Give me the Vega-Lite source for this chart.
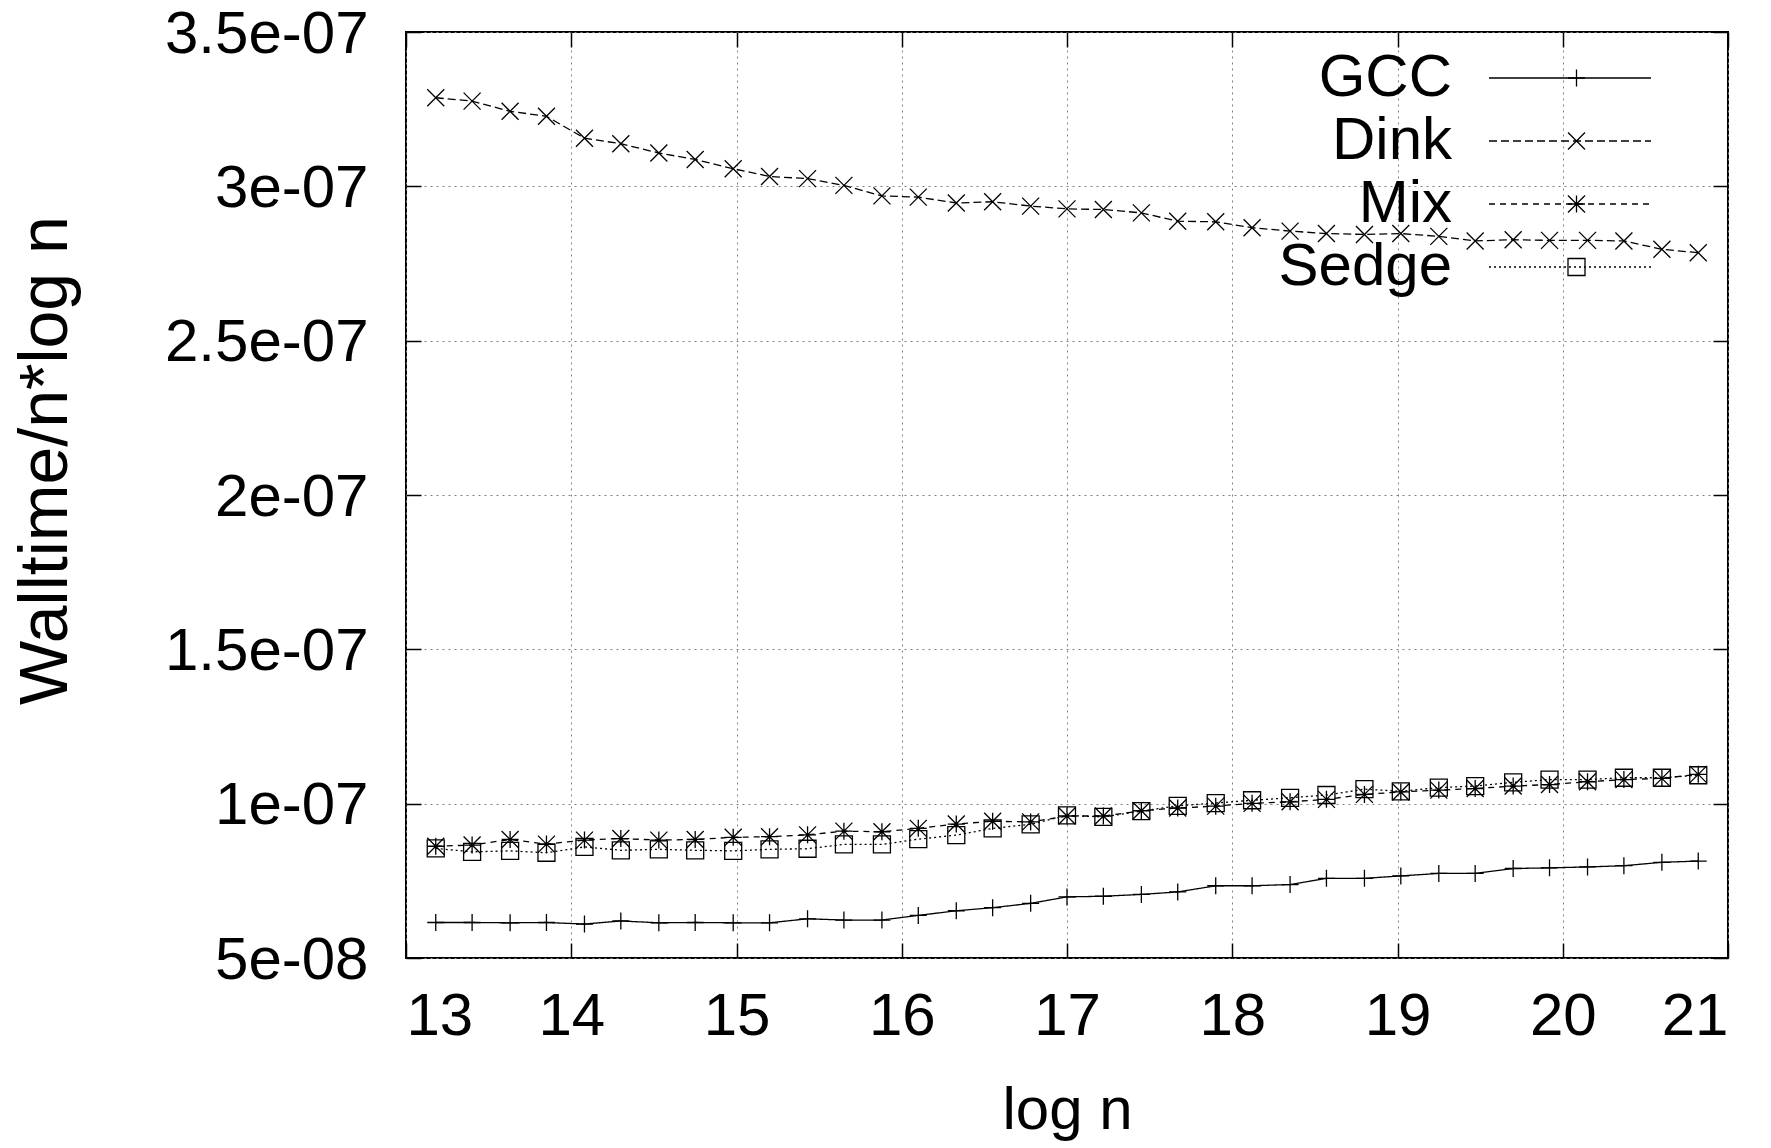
{
  "$schema": "https://vega.github.io/schema/vega-lite/v6.json",
  "width": 1322,
  "height": 926,
  "autosize": {"type": "none"},
  "padding": {"left": 406, "top": 32, "right": 43, "bottom": 190},
  "background": "white",
  "config": {
    "font": "Liberation Sans",
    "view": {"stroke": "black", "strokeWidth": 2},
    "axis": {"labelColor": "black", "titleColor": "black", "titleFontWeight": "normal", "tickColor": "black", "labelLimit": 500}
  },
  "data": {
    "values": [
      {"x": 13.18, "v": 6.15e-8, "s": "GCC"},
      {"x": 13.40, "v": 6.15e-8, "s": "GCC"},
      {"x": 13.63, "v": 6.14e-8, "s": "GCC"},
      {"x": 13.85, "v": 6.15e-8, "s": "GCC"},
      {"x": 14.08, "v": 6.10e-8, "s": "GCC"},
      {"x": 14.30, "v": 6.20e-8, "s": "GCC"},
      {"x": 14.53, "v": 6.14e-8, "s": "GCC"},
      {"x": 14.75, "v": 6.15e-8, "s": "GCC"},
      {"x": 14.98, "v": 6.14e-8, "s": "GCC"},
      {"x": 15.20, "v": 6.14e-8, "s": "GCC"},
      {"x": 15.43, "v": 6.27e-8, "s": "GCC"},
      {"x": 15.65, "v": 6.23e-8, "s": "GCC"},
      {"x": 15.88, "v": 6.23e-8, "s": "GCC"},
      {"x": 16.10, "v": 6.38e-8, "s": "GCC"},
      {"x": 16.33, "v": 6.53e-8, "s": "GCC"},
      {"x": 16.55, "v": 6.63e-8, "s": "GCC"},
      {"x": 16.78, "v": 6.77e-8, "s": "GCC"},
      {"x": 17.00, "v": 6.98e-8, "s": "GCC"},
      {"x": 17.22, "v": 7.00e-8, "s": "GCC"},
      {"x": 17.45, "v": 7.06e-8, "s": "GCC"},
      {"x": 17.67, "v": 7.14e-8, "s": "GCC"},
      {"x": 17.90, "v": 7.34e-8, "s": "GCC"},
      {"x": 18.12, "v": 7.34e-8, "s": "GCC"},
      {"x": 18.35, "v": 7.38e-8, "s": "GCC"},
      {"x": 18.57, "v": 7.58e-8, "s": "GCC"},
      {"x": 18.80, "v": 7.58e-8, "s": "GCC"},
      {"x": 19.02, "v": 7.66e-8, "s": "GCC"},
      {"x": 19.25, "v": 7.74e-8, "s": "GCC"},
      {"x": 19.47, "v": 7.74e-8, "s": "GCC"},
      {"x": 19.70, "v": 7.90e-8, "s": "GCC"},
      {"x": 19.92, "v": 7.92e-8, "s": "GCC"},
      {"x": 20.15, "v": 7.95e-8, "s": "GCC"},
      {"x": 20.37, "v": 7.99e-8, "s": "GCC"},
      {"x": 20.60, "v": 8.10e-8, "s": "GCC"},
      {"x": 20.82, "v": 8.14e-8, "s": "GCC"},
      {"x": 13.18, "v": 32.87e-8, "s": "Dink"},
      {"x": 13.40, "v": 32.76e-8, "s": "Dink"},
      {"x": 13.63, "v": 32.43e-8, "s": "Dink"},
      {"x": 13.85, "v": 32.27e-8, "s": "Dink"},
      {"x": 14.08, "v": 31.56e-8, "s": "Dink"},
      {"x": 14.30, "v": 31.38e-8, "s": "Dink"},
      {"x": 14.53, "v": 31.08e-8, "s": "Dink"},
      {"x": 14.75, "v": 30.87e-8, "s": "Dink"},
      {"x": 14.98, "v": 30.57e-8, "s": "Dink"},
      {"x": 15.20, "v": 30.32e-8, "s": "Dink"},
      {"x": 15.43, "v": 30.25e-8, "s": "Dink"},
      {"x": 15.65, "v": 30.03e-8, "s": "Dink"},
      {"x": 15.88, "v": 29.69e-8, "s": "Dink"},
      {"x": 16.10, "v": 29.65e-8, "s": "Dink"},
      {"x": 16.33, "v": 29.46e-8, "s": "Dink"},
      {"x": 16.55, "v": 29.50e-8, "s": "Dink"},
      {"x": 16.78, "v": 29.36e-8, "s": "Dink"},
      {"x": 17.00, "v": 29.27e-8, "s": "Dink"},
      {"x": 17.22, "v": 29.25e-8, "s": "Dink"},
      {"x": 17.45, "v": 29.14e-8, "s": "Dink"},
      {"x": 17.67, "v": 28.87e-8, "s": "Dink"},
      {"x": 17.90, "v": 28.85e-8, "s": "Dink"},
      {"x": 18.12, "v": 28.66e-8, "s": "Dink"},
      {"x": 18.35, "v": 28.55e-8, "s": "Dink"},
      {"x": 18.57, "v": 28.47e-8, "s": "Dink"},
      {"x": 18.80, "v": 28.44e-8, "s": "Dink"},
      {"x": 19.02, "v": 28.47e-8, "s": "Dink"},
      {"x": 19.25, "v": 28.38e-8, "s": "Dink"},
      {"x": 19.47, "v": 28.23e-8, "s": "Dink"},
      {"x": 19.70, "v": 28.27e-8, "s": "Dink"},
      {"x": 19.92, "v": 28.25e-8, "s": "Dink"},
      {"x": 20.15, "v": 28.25e-8, "s": "Dink"},
      {"x": 20.37, "v": 28.23e-8, "s": "Dink"},
      {"x": 20.60, "v": 27.96e-8, "s": "Dink"},
      {"x": 20.82, "v": 27.85e-8, "s": "Dink"},
      {"x": 13.18, "v": 8.62e-8, "s": "Mix"},
      {"x": 13.40, "v": 8.66e-8, "s": "Mix"},
      {"x": 13.63, "v": 8.84e-8, "s": "Mix"},
      {"x": 13.85, "v": 8.69e-8, "s": "Mix"},
      {"x": 14.08, "v": 8.82e-8, "s": "Mix"},
      {"x": 14.30, "v": 8.87e-8, "s": "Mix"},
      {"x": 14.53, "v": 8.82e-8, "s": "Mix"},
      {"x": 14.75, "v": 8.84e-8, "s": "Mix"},
      {"x": 14.98, "v": 8.91e-8, "s": "Mix"},
      {"x": 15.20, "v": 8.93e-8, "s": "Mix"},
      {"x": 15.43, "v": 8.99e-8, "s": "Mix"},
      {"x": 15.65, "v": 9.11e-8, "s": "Mix"},
      {"x": 15.88, "v": 9.09e-8, "s": "Mix"},
      {"x": 16.10, "v": 9.20e-8, "s": "Mix"},
      {"x": 16.33, "v": 9.34e-8, "s": "Mix"},
      {"x": 16.55, "v": 9.43e-8, "s": "Mix"},
      {"x": 16.78, "v": 9.41e-8, "s": "Mix"},
      {"x": 17.00, "v": 9.60e-8, "s": "Mix"},
      {"x": 17.22, "v": 9.60e-8, "s": "Mix"},
      {"x": 17.45, "v": 9.77e-8, "s": "Mix"},
      {"x": 17.67, "v": 9.86e-8, "s": "Mix"},
      {"x": 17.90, "v": 9.92e-8, "s": "Mix"},
      {"x": 18.12, "v": 10.01e-8, "s": "Mix"},
      {"x": 18.35, "v": 10.06e-8, "s": "Mix"},
      {"x": 18.57, "v": 10.14e-8, "s": "Mix"},
      {"x": 18.80, "v": 10.30e-8, "s": "Mix"},
      {"x": 19.02, "v": 10.38e-8, "s": "Mix"},
      {"x": 19.25, "v": 10.44e-8, "s": "Mix"},
      {"x": 19.47, "v": 10.49e-8, "s": "Mix"},
      {"x": 19.70, "v": 10.57e-8, "s": "Mix"},
      {"x": 19.92, "v": 10.62e-8, "s": "Mix"},
      {"x": 20.15, "v": 10.71e-8, "s": "Mix"},
      {"x": 20.37, "v": 10.78e-8, "s": "Mix"},
      {"x": 20.60, "v": 10.82e-8, "s": "Mix"},
      {"x": 20.82, "v": 10.95e-8, "s": "Mix"},
      {"x": 13.18, "v": 8.55e-8, "s": "Sedge"},
      {"x": 13.40, "v": 8.44e-8, "s": "Sedge"},
      {"x": 13.63, "v": 8.47e-8, "s": "Sedge"},
      {"x": 13.85, "v": 8.41e-8, "s": "Sedge"},
      {"x": 14.08, "v": 8.60e-8, "s": "Sedge"},
      {"x": 14.30, "v": 8.49e-8, "s": "Sedge"},
      {"x": 14.53, "v": 8.52e-8, "s": "Sedge"},
      {"x": 14.75, "v": 8.49e-8, "s": "Sedge"},
      {"x": 14.98, "v": 8.47e-8, "s": "Sedge"},
      {"x": 15.20, "v": 8.52e-8, "s": "Sedge"},
      {"x": 15.43, "v": 8.54e-8, "s": "Sedge"},
      {"x": 15.65, "v": 8.68e-8, "s": "Sedge"},
      {"x": 15.88, "v": 8.68e-8, "s": "Sedge"},
      {"x": 16.10, "v": 8.85e-8, "s": "Sedge"},
      {"x": 16.33, "v": 8.98e-8, "s": "Sedge"},
      {"x": 16.55, "v": 9.20e-8, "s": "Sedge"},
      {"x": 16.78, "v": 9.33e-8, "s": "Sedge"},
      {"x": 17.00, "v": 9.62e-8, "s": "Sedge"},
      {"x": 17.22, "v": 9.57e-8, "s": "Sedge"},
      {"x": 17.45, "v": 9.76e-8, "s": "Sedge"},
      {"x": 17.67, "v": 9.93e-8, "s": "Sedge"},
      {"x": 17.90, "v": 10.02e-8, "s": "Sedge"},
      {"x": 18.12, "v": 10.11e-8, "s": "Sedge"},
      {"x": 18.35, "v": 10.19e-8, "s": "Sedge"},
      {"x": 18.57, "v": 10.28e-8, "s": "Sedge"},
      {"x": 18.80, "v": 10.47e-8, "s": "Sedge"},
      {"x": 19.02, "v": 10.40e-8, "s": "Sedge"},
      {"x": 19.25, "v": 10.52e-8, "s": "Sedge"},
      {"x": 19.47, "v": 10.57e-8, "s": "Sedge"},
      {"x": 19.70, "v": 10.69e-8, "s": "Sedge"},
      {"x": 19.92, "v": 10.78e-8, "s": "Sedge"},
      {"x": 20.15, "v": 10.78e-8, "s": "Sedge"},
      {"x": 20.37, "v": 10.84e-8, "s": "Sedge"},
      {"x": 20.60, "v": 10.84e-8, "s": "Sedge"},
      {"x": 20.82, "v": 10.92e-8, "s": "Sedge"}
    ]
  },
  "layer": [
    {
      "mark": {"type": "line", "color": "black", "strokeWidth": 1.3},
      "encoding": {
        "x": {
          "field": "x", "type": "quantitative",
          "scale": {"domain": [13, 21], "nice": false, "zero": false},
          "axis": {
            "orient": "bottom",
            "values": [13, 14, 15, 16, 17, 18, 19, 20, 21],
            "format": "d",
            "grid": true, "gridDash": [2, 4], "gridColor": "#808080", "gridWidth": 1,
            "domain": false,
            "tickSize": -15, "tickWidth": 1.5,
            "labelFontSize": 60, "labelPadding": 44,
            "title": "log n", "titleFontSize": 60,
            "titleY": 170, "titleBaseline": "alphabetic"
          }
        },
        "y": {
          "field": "v", "type": "quantitative",
          "scale": {"domain": [5e-8, 3.5e-7], "nice": false, "zero": false},
          "axis": {
            "orient": "left",
            "values": [5e-8, 1e-7, 1.5e-7, 2e-7, 2.5e-7, 3e-7, 3.5e-7],
            "format": ".2~e",
            "labelExpr": "replace(datum.label, 'e-', 'e-0')",
            "grid": true, "gridDash": [2, 4], "gridColor": "#808080", "gridWidth": 1,
            "domain": false,
            "tickSize": -15, "tickWidth": 1.5,
            "labelFontSize": 60, "labelPadding": 53, "labelLimit": 500, "labelOffset": 2,
            "title": "Walltime/n*log n", "titleFontSize": 68,
            "titleAngle": 270, "titleAlign": "center", "titleBaseline": "middle",
            "titleX": -360, "titleY": 428
          }
        },
        "strokeDash": {
          "field": "s", "type": "nominal",
          "scale": {"domain": ["GCC", "Dink", "Mix", "Sedge"], "range": [[1, 0], [8, 4], [6, 5], [2, 3]]},
          "legend": {
            "orient": "none", "legendX": 1134, "legendY": 16,
            "title": null, "padding": 0,
            "symbolType": "M-5.4,0H5.4", "symbolSize": 900,
            "symbolStrokeColor": "black", "symbolStrokeWidth": 1.3,
            "labelFontSize": 60, "labelColor": "black", "labelAlign": "right",
            "labelOffset": -148, "labelLimit": 0, "rowPadding": 3
          }
        }
      }
    },
    {
      "mark": {"type": "point", "filled": false, "color": "black", "strokeWidth": 1.3, "size": 289, "opacity": 1},
      "encoding": {
        "x": {
          "field": "x", "type": "quantitative",
          "scale": {"domain": [13, 21], "nice": false, "zero": false},
          "axis": {
            "orient": "top",
            "values": [13, 14, 15, 16, 17, 18, 19, 20, 21],
            "grid": false, "domain": false, "labels": false, "title": null,
            "tickSize": -15, "tickWidth": 1.5
          }
        },
        "y": {
          "field": "v", "type": "quantitative",
          "scale": {"domain": [5e-8, 3.5e-7], "nice": false, "zero": false},
          "axis": {
            "orient": "right",
            "values": [5e-8, 1e-7, 1.5e-7, 2e-7, 2.5e-7, 3e-7, 3.5e-7],
            "grid": false, "domain": false, "labels": false, "title": null,
            "tickSize": -15, "tickWidth": 1.5
          }
        },
        "shape": {
          "field": "s", "type": "nominal", "sort": null,
          "scale": {"range": ["M-1,0H1M0,-1V1", "M-1,-1L1,1M-1,1L1,-1", "M-1,0H1M0,-1V1M-1,-1L1,1M-1,1L1,-1", "square"]},
          "legend": {
            "orient": "none", "legendX": 1140.5, "legendY": 16,
            "title": null, "padding": 0,
            "symbolSize": 289, "symbolStrokeColor": "black", "symbolFillColor": "transparent",
            "symbolStrokeWidth": 1.3,
            "labelFontSize": 60, "labelOpacity": 0, "rowPadding": 3
          }
        }
      }
    }
  ],
  "resolve": {"axis": {"x": "independent", "y": "independent"}}
}
